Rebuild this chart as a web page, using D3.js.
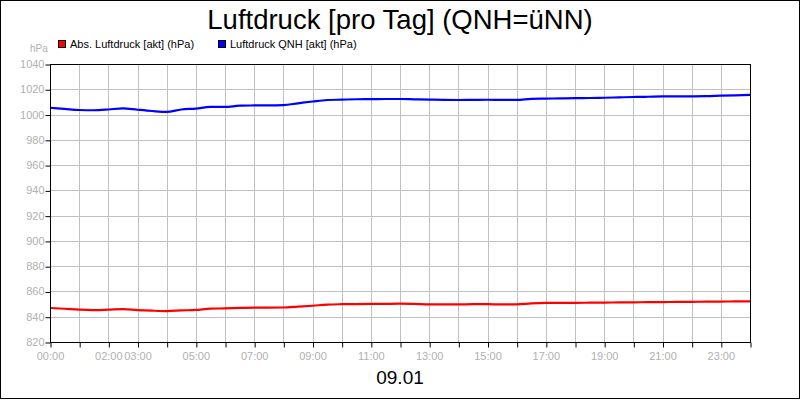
<!DOCTYPE html>
<html>
<head>
<meta charset="utf-8">
<script src="https://cdn.jsdelivr.net/npm/d3@7"></script>
<style>
  body { margin: 0; background: #fff; }
  svg { display: block; font-family: "Liberation Sans", Arial, sans-serif; }
</style>
</head>
<body>
<div id="chart"></div>
<script>
// time in hours since 00:00
var hours = [0, 0.5, 1, 1.5, 2, 2.5, 3, 3.5, 4, 4.5, 5, 5.5, 6, 6.5, 7, 7.5, 8, 8.5, 9, 9.5,
    10, 10.5, 11, 11.5, 12, 12.5, 13, 13.5, 14, 14.5, 15, 15.5, 16, 16.5, 17, 17.5, 18, 18.5,
    19, 19.5, 20, 20.5, 21, 21.5, 22, 22.5, 23, 23.5, 24];

var absDruck = [846.9, 846.3, 845.6, 845.3, 845.6, 846.0, 845.3, 844.8, 844.5, 845.0, 845.4, 846.4,
    846.6, 847.0, 847.2, 847.2, 847.3, 848.0, 848.7, 849.6, 849.9, 850.0, 850.1, 850.2, 850.3,
    850.1, 849.8, 849.8, 849.8, 849.9, 849.9, 849.8, 849.8, 850.5, 850.9, 851.0, 851.0, 851.1,
    851.2, 851.3, 851.4, 851.5, 851.6, 851.7, 851.8, 851.9, 852.0, 852.1, 852.2];

var qnhDruck = [1005.4, 1004.5, 1003.6, 1003.4, 1004.0, 1004.9, 1003.8, 1002.8, 1002.1, 1004.0,
    1004.7, 1006.0, 1006.0, 1007.0, 1007.2, 1007.3, 1007.5, 1008.9, 1010.3, 1011.5, 1011.8,
    1012.1, 1012.2, 1012.3, 1012.3, 1012.0, 1011.8, 1011.6, 1011.5, 1011.6, 1011.7, 1011.6,
    1011.6, 1012.4, 1012.6, 1012.8, 1013.0, 1013.1, 1013.3, 1013.6, 1013.9, 1014.1, 1014.4,
    1014.4, 1014.4, 1014.5, 1014.9, 1015.2, 1015.5];

var seriesNames = ["Abs. Luftdruck [akt] (hPa)", "Luftdruck QNH [akt] (hPa)"];
var seriesColors = ["#ff0000", "#0000ff"];

var yTicks = d3.range(820, 1041, 20);
var xLabelHours = [0, 2, 3, 5, 7, 9, 11, 13, 15, 17, 19, 21, 23];

var width = 800, height = 400;
var plotLeft = 50, plotRight = 750, plotTop = 64, plotBottom = 342;

var svg = d3.select("#chart").append("svg").attr("width", width).attr("height", height);

svg.append("rect").attr("x", 0.5).attr("y", 0.5).attr("width", 799).attr("height", 398)
    .attr("fill", "#fff").attr("stroke", "#000");

var x = d3.scaleLinear().domain([0, 24]).range([plotLeft, plotRight]);
var y = d3.scaleLinear().domain([820, 1040]).range([plotBottom, plotTop]);

// grid
var grid = svg.append("g").attr("stroke", "#c0c0c0").attr("stroke-width", 1);
grid.selectAll(".gx").data(d3.range(1, 24)).enter().append("line")
    .attr("x1", function (d) { return Math.round(x(d)) + 0.5; })
    .attr("x2", function (d) { return Math.round(x(d)) + 0.5; })
    .attr("y1", plotTop).attr("y2", plotBottom);
grid.selectAll(".gy").data(yTicks.slice(1, -1)).enter().append("line")
    .attr("x1", plotLeft).attr("x2", plotRight)
    .attr("y1", function (d) { return Math.round(y(d)) + 0.5; })
    .attr("y2", function (d) { return Math.round(y(d)) + 0.5; });

// axes
var xAxis = svg.append("g").attr("transform", "translate(0," + (plotBottom + 0.5) + ")")
    .call(d3.axisBottom(x).tickValues(d3.range(0, 25)).tickSize(5).tickSizeOuter(0)
        .tickFormat(function (d) {
            return xLabelHours.indexOf(d) >= 0 ? d3.format("02")(d) + ":00" : "";
        }));
xAxis.select(".domain").remove();
xAxis.selectAll("line").attr("stroke", "#000").attr("transform", "translate(0.5,0)");
xAxis.selectAll("text").attr("fill", "#b0b0b0").style("font-size", "11px").attr("dy", "0.9em");

var yAxis = svg.append("g").attr("transform", "translate(" + (plotLeft + 0.5) + ",0)")
    .call(d3.axisLeft(y).tickValues(yTicks).tickSize(5).tickSizeOuter(0).tickFormat(d3.format("d")));
yAxis.select(".domain").remove();
yAxis.selectAll("line").attr("stroke", "#000").attr("transform", "translate(0,0.5)");
yAxis.selectAll("text").attr("fill", "#b0b0b0").style("font-size", "11px").attr("x", -6);

// series
var line = d3.line()
    .x(function (d) { return x(d[0]); })
    .y(function (d) { return y(d[1]); })
    .curve(d3.curveMonotoneX);

[absDruck, qnhDruck].forEach(function (vals, i) {
    svg.append("path")
        .datum(hours.map(function (h, j) { return [h, vals[j]]; }))
        .attr("fill", "none")
        .attr("stroke", seriesColors[i])
        .attr("stroke-width", 2.2)
        .attr("d", line);
});

// frame
svg.append("rect").attr("x", plotLeft + 0.5).attr("y", plotTop + 0.5)
    .attr("width", plotRight - plotLeft).attr("height", plotBottom - plotTop)
    .attr("fill", "none").attr("stroke", "#000");

// title
svg.append("text").attr("x", 400).attr("y", 29).attr("text-anchor", "middle")
    .style("font-size", "27.5px").attr("fill", "#000")
    .text("Luftdruck [pro Tag] (QNH=üNN)");

// unit
svg.append("text").attr("x", 30).attr("y", 52).style("font-size", "10px")
    .attr("fill", "#b0b0b0").text("hPa");

// legend
var legendX = [58, 218];
seriesNames.forEach(function (name, i) {
    var g = svg.append("g").attr("transform", "translate(" + legendX[i] + ",40)");
    g.append("rect").attr("x", 0.5).attr("y", 0.5).attr("width", 7).attr("height", 7)
        .attr("fill", seriesColors[i]).attr("stroke", "#000");
    g.append("text").attr("x", 12).attr("y", 8).style("font-size", "11px")
        .attr("fill", "#000").text(name);
});

// date label
svg.append("text").attr("x", 400).attr("y", 384).attr("text-anchor", "middle")
    .style("font-size", "19px").attr("fill", "#000").text("09.01");
</script>
</body>
</html>
